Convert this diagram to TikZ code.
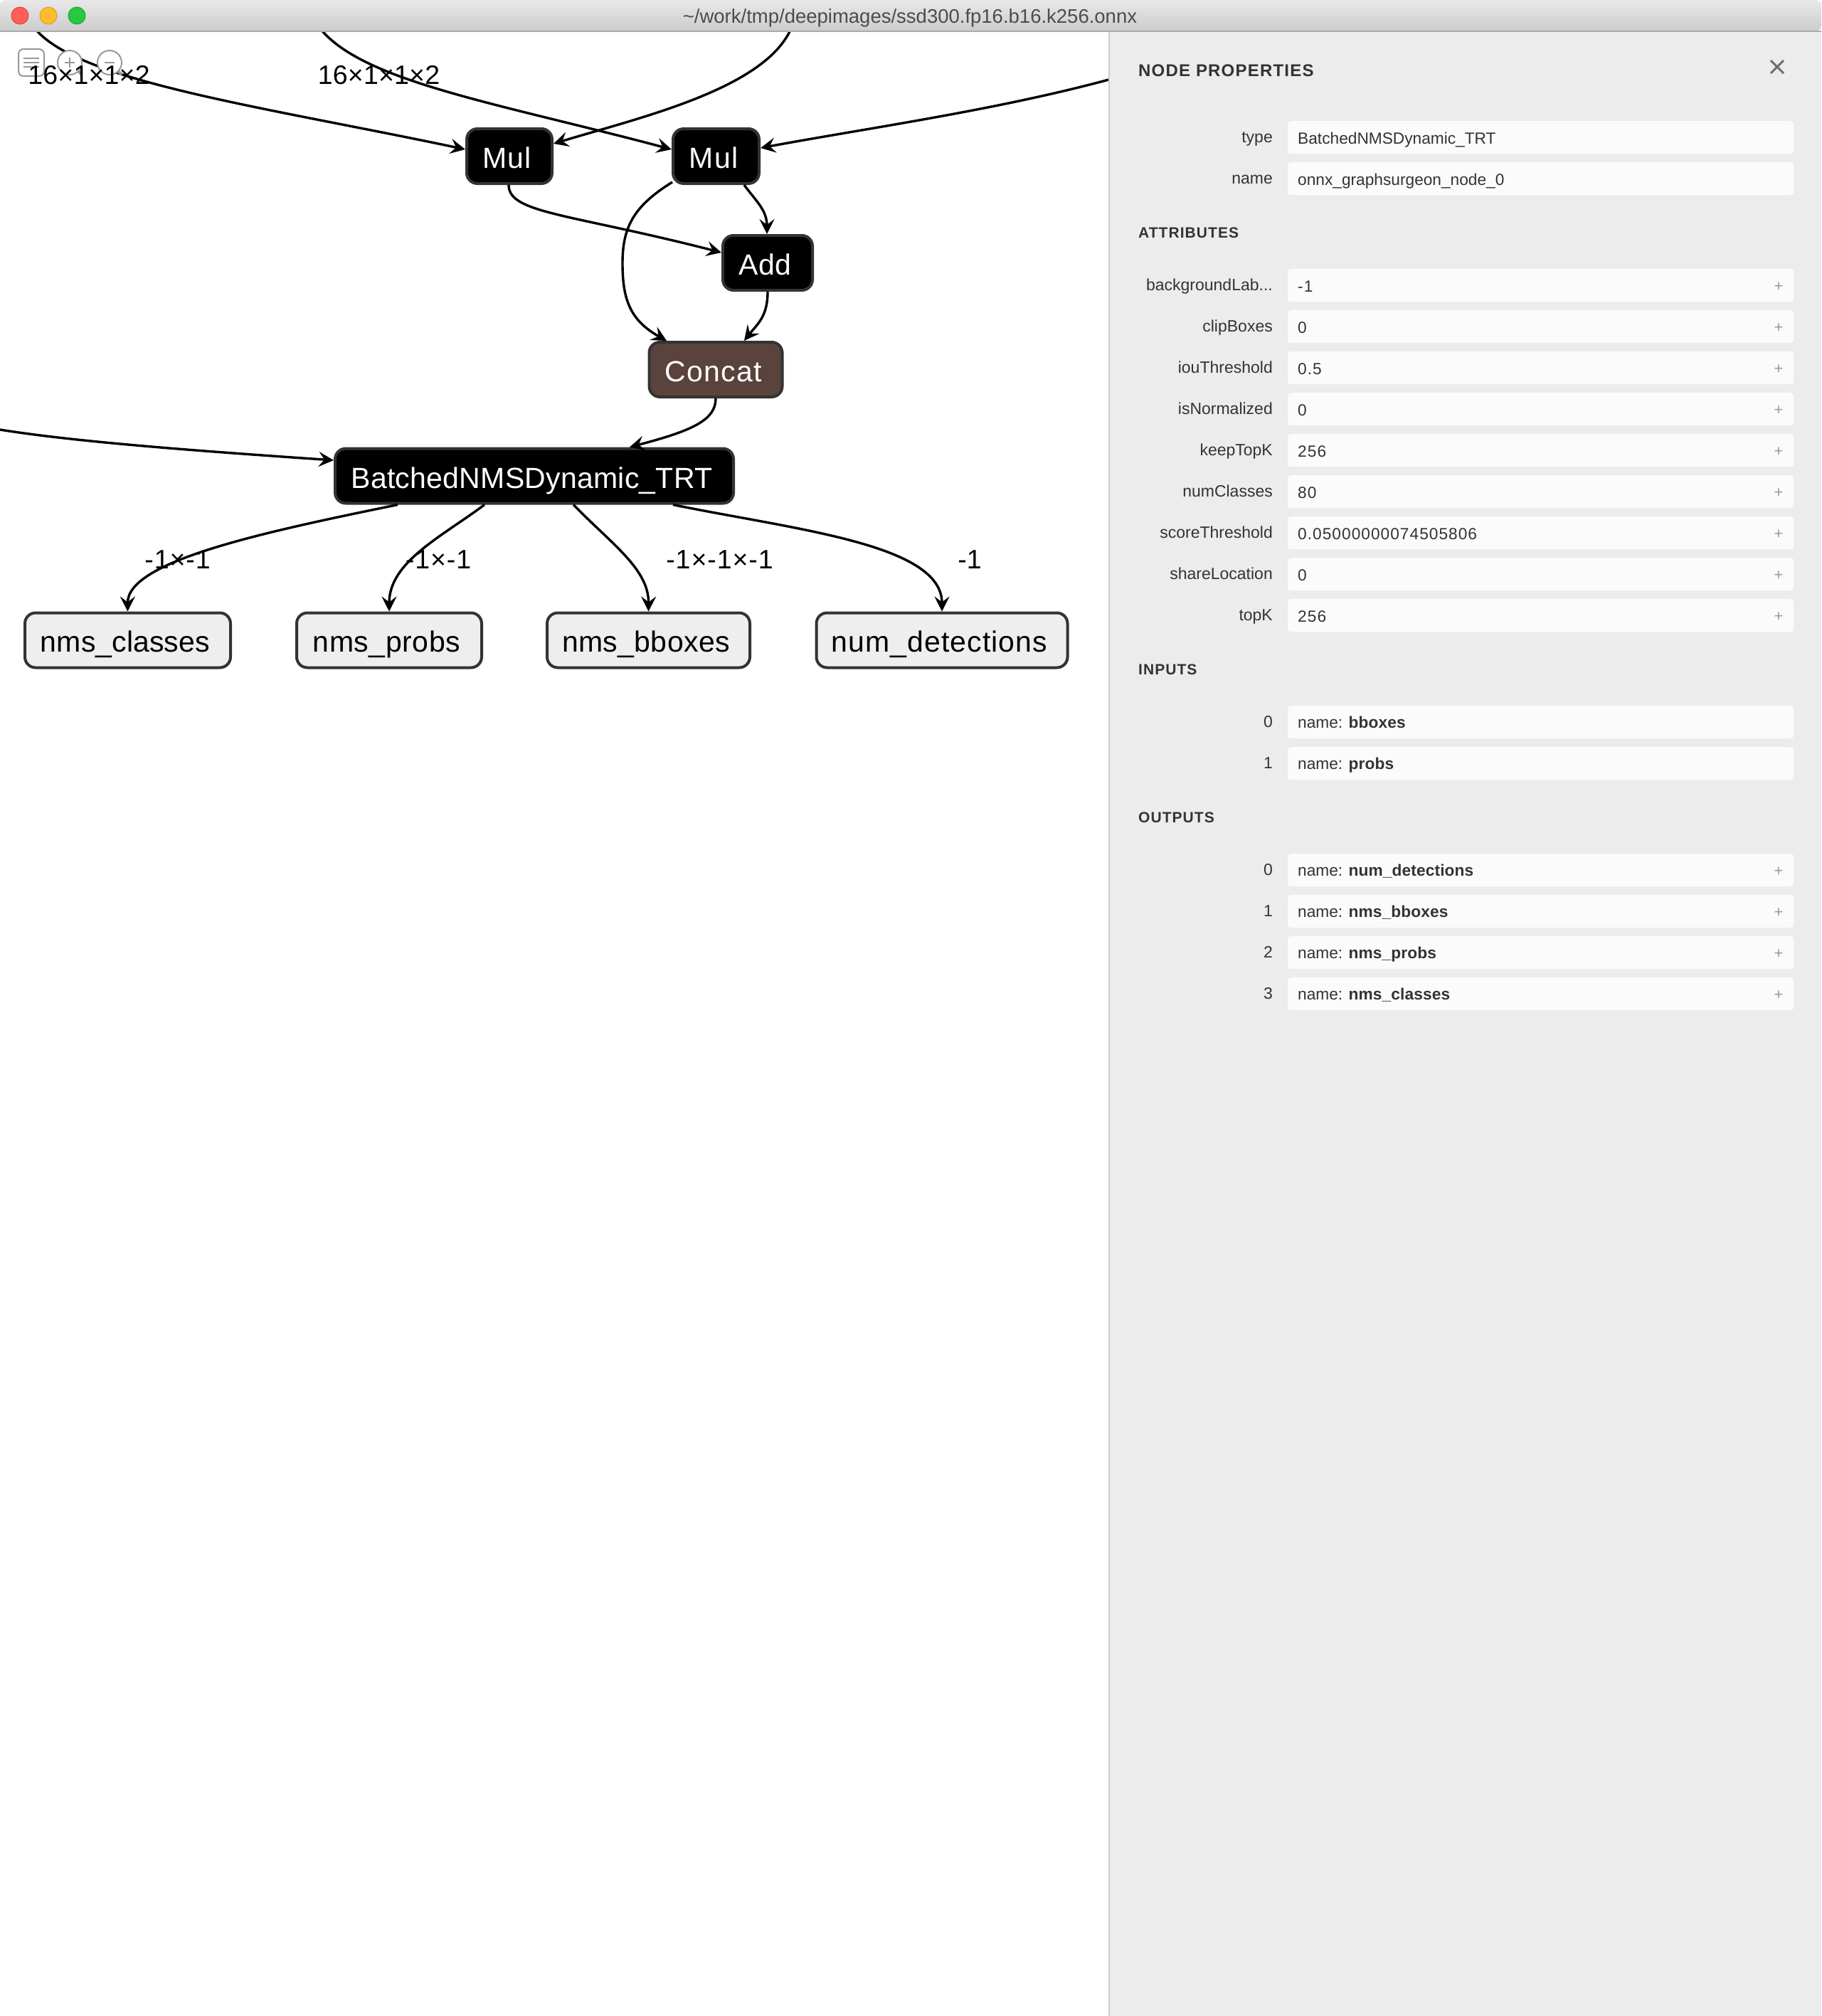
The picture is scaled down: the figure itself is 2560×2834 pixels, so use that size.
\documentclass[tikz,border=0pt]{standalone}
\usepackage{fontspec}
\setmainfont{Liberation Sans}
\usetikzlibrary{arrows.meta,calc}
\definecolor{nodeborder}{HTML}{333333}
\definecolor{concatfill}{HTML}{5A433D}
\definecolor{outfill}{HTML}{EEEEEE}
\definecolor{panelfill}{HTML}{ECECEC}
\definecolor{panelline}{HTML}{CCCCCC}
\definecolor{boxfill}{HTML}{FBFBFB}
\definecolor{paneltext}{HTML}{333333}
\definecolor{icongray}{HTML}{999999}
\definecolor{lightred}{HTML}{FF5F57}
\definecolor{lightredline}{HTML}{E0443E}
\definecolor{lightyel}{HTML}{FEBC2E}
\definecolor{lightyelline}{HTML}{DEA123}
\definecolor{lightgrn}{HTML}{28C840}
\definecolor{lightgrnline}{HTML}{1AAB29}
\newcommand{\nodefont}[1]{\fontsize{41}{48}\selectfont\addfontfeature{LetterSpace=#1}}
\newcommand{\shapefont}[1]{\fontsize{37.5}{44}\selectfont\addfontfeature{LetterSpace=#1}}
\newcommand{\panelfont}{\fontsize{22.7}{26}\selectfont}
\newcommand{\labelfont}{\fontsize{23}{26}\selectfont}
\newcommand{\bgname}{backgroundLab...}
\newcommand{\numval}[1]{{\addfontfeature{LetterSpace=4.5}#1}}
\newcommand{\boldval}[1]{{\bfseries\addfontfeature{LetterSpace=0.5}#1}}
\tikzset{
  x=1pt,y=-1pt,
  gnode/.style={draw=nodeborder,line width=4pt,rounded corners=15pt,minimum height=77pt,inner sep=0pt,
    text height=34pt,text depth=0pt,execute at end node=\kern7pt},
  opnode/.style={gnode,fill=black,text=white},
  catnode/.style={gnode,fill=concatfill,text=white},
  outnode/.style={gnode,fill=outfill,text=black,text height=32pt},
  ltr/.style={font=\nodefont{#1}},
  conn/.style={draw=black,line width=3.4pt,-{Stealth[length=21pt,width=21pt,inset=8pt]}},
  shapelabel/.style={text=black,inner sep=0pt,text height=26pt,text depth=0pt},
  slab/.style={font=\shapefont{#1}},
  vbox/.style={fill=boxfill,rounded corners=4pt,draw=none,inner sep=0pt,minimum width=711pt,minimum height=46pt,anchor=north west},
  proplabel/.style={font=\labelfont,text=paneltext,inner sep=0pt,anchor=base east},
  propvalue/.style={font=\panelfont,text=paneltext,inner sep=0pt,anchor=base west},
  prophead/.style={font=\fontsize{#1}{26}\selectfont\bfseries\addfontfeature{LetterSpace=5},text=paneltext,inner sep=0pt,anchor=base west},
  plusmark/.style={font=\fontsize{22}{24}\selectfont,text=icongray,inner sep=0pt},
  lightdot/.style={circle,minimum size=24pt,inner sep=0pt,line width=1pt},
  iconline/.style={draw=icongray,line width=2.4pt},
}
\begin{document}
\begin{tikzpicture}
\useasboundingbox (0,0) rectangle (2560,2834);
\fill[white] (0,0) rectangle (2560,2834);

% graph nodes
\node[opnode,ltr=3,minimum width=120pt] (mulA) at (716,219.5) {Mul};
\node[opnode,ltr=3,minimum width=121pt] (mulB) at (1006.5,219.5) {Mul};
\node[opnode,ltr=1.3,minimum width=126pt] (add) at (1079,369.5) {Add};
\node[catnode,ltr=3,minimum width=187pt] (concat) at (1006,519.5) {Concat};
\node[opnode,ltr=0.6,minimum width=560pt] (nms) at (751,669) {BatchedNMSDynamic\_TRT};
\node[outnode,ltr=0.3,minimum width=289pt] (classes) at (179.5,900) {nms\_classes};
\node[outnode,ltr=1.5,minimum width=260pt] (probs) at (547,900) {nms\_probs};
\node[outnode,ltr=0.8,minimum width=285pt] (bboxes) at (911.5,900) {nms\_bboxes};
\node[outnode,ltr=2.6,minimum width=353pt] (detections) at (1324,900) {num\_detections};

% free ends of the connectors
\coordinate (inA) at (49,40);
\coordinate (inB) at (450,40);
\coordinate (inC) at (1112,40);
\coordinate (inD) at (1562,111);
\coordinate (inE) at (0,604);

% connectors
\draw[conn] (inA) .. controls (110,115) and (370,150) .. ($(mulA.west)+(0,-9.5)$);
\draw[conn] (inB) .. controls (510,115) and (700,145) .. ($(mulB.west)+(0,-9.5)$);
\draw[conn] (inC) .. controls (1075,125) and (900,165) .. ($(mulA.east)+(0,-17.5)$);
\draw[conn] (inD) .. controls (1400,155) and (1220,180) .. ($(mulB.east)+(0,-11.5)$);
\draw[conn] ($(mulA.south)+(-1,0)$) .. controls (715,300) and (800,300) .. ($(add.west)+(0,-14.5)$);
\draw[conn] ($(mulB.south west)+(1,-4)$) .. controls (890,290) and (875,320) .. (875,370) .. controls (875,420) and (885,450) .. ($(concat.north)+(-69,0)$);
\draw[conn] ($(mulB.south)+(39.5,0)$) .. controls (1062,282) and (1078,295) .. ($(add.north)+(-1,0)$);
\draw[conn] (add.south) .. controls (1079,445) and (1065,455) .. ($(concat.north)+(40,0)$);
\draw[conn] (concat.south) .. controls (1006,590) and (975,605) .. ($(nms.north)+(134,0)$);
\draw[conn] (inE) .. controls (100,620) and (250,632) .. ($(nms.west)+(0,-22)$);
\draw[conn] ($(nms.south)+(-192,0)$) .. controls (360,750) and (179,790) .. (classes.north);
\draw[conn] ($(nms.south)+(-70,0)$) .. controls (620,755) and (547,790) .. (probs.north);
\draw[conn] ($(nms.south)+(55,0)$) .. controls (860,765) and (912,800) .. (bboxes.north);
\draw[conn] ($(nms.south)+(195,0)$) .. controls (1120,745) and (1324,765) .. (detections.north);

% graph toolbar
\draw[icongray,line width=2pt,rounded corners=7pt] (26,69) rectangle (62,107);
\draw[iconline] (33,82) -- (55,82);
\draw[iconline] (33,88) -- (55,88);
\draw[iconline] (33,94) -- (55,94);
\draw[icongray,line width=2pt,fill=white] (98,88) circle (17);
\draw[iconline] (91,88) -- (105,88);
\draw[iconline] (98,81) -- (98,95);
\draw[icongray,line width=4pt] (110,100) -- (115,105);
\draw[icongray,line width=2pt,fill=white] (154,88) circle (17);
\draw[iconline] (147,88) -- (161,88);
\draw[icongray,line width=4pt] (166,100) -- (171,105);

% shape labels
\node[shapelabel,slab=0.5] (lblA) at (125,105.5) {16×1×1×2};
\node[shapelabel,slab=0.5] (lblB) at (532.5,105.5) {16×1×1×2};
\node[shapelabel,slab=2.5] (lblC) at (249.5,786) {-1×-1};
\node[shapelabel,slab=2.5] (lblD) at (616,786) {-1×-1};
\node[shapelabel,slab=2.5] (lblE) at (1011.5,786) {-1×-1×-1};
\node[shapelabel,slab=0] (lblF) at (1363,786) {-1};

% properties panel
\fill[panelfill] (1558,44) rectangle (2560,2834);
\draw[panelline,line width=2pt] (1559,44) -- (1559,2834);
\draw[draw=nodeborder!70!white,line width=3pt] (2489,85) -- (2507,103);
\draw[draw=nodeborder!70!white,line width=3pt] (2507,85) -- (2489,103);

\node[prophead=24] (headProps) at (1600,108) {NODE PROPERTIES};
\node[prophead=21] (headAttrs) at (1600,334) {ATTRIBUTES};
\node[prophead=21] (headInputs) at (1600,948) {INPUTS};
\node[prophead=21] (headOutputs) at (1600,1156) {OUTPUTS};

\foreach \id/\lab/\val/\top in {
  type/type/BatchedNMSDynamic\_TRT/170,
  name/name/onnx\_graphsurgeon\_node\_0/228}{
  \node[vbox] (box\id) at (1810,\top) {};
  \node[proplabel] (lab\id) at (1789,\top+30) {\lab};
  \node[propvalue] (val\id) at (1824,\top+32) {\val};
}
\foreach \id/\lab/\val/\top in {
  bg/\bgname/-1/378,
  clip/clipBoxes/0/436,
  iou/iouThreshold/0.5/494,
  norm/isNormalized/0/552,
  keep/keepTopK/256/610,
  classes/numClasses/80/668,
  score/scoreThreshold/0.05000000074505806/726,
  share/shareLocation/0/784,
  topk/topK/256/842}{
  \node[vbox] (box\id) at (1810,\top) {};
  \node[proplabel] (lab\id) at (1789,\top+30) {\lab};
  \node[propvalue] (val\id) at (1824,\top+32) {\numval{\val}};
  \node[plusmark] (plus\id) at (2500,\top+25) {+};
}
\foreach \id/\lab/\val/\top in {
  inA/0/bboxes/992,
  inB/1/probs/1050}{
  \node[vbox] (box\id) at (1810,\top) {};
  \node[proplabel] (lab\id) at (1789,\top+30) {\lab};
  \node[propvalue] (val\id) at (1824,\top+31) {name: \boldval{\val}};
}
\foreach \id/\lab/\val/\top in {
  outA/0/num\_detections/1200,
  outB/1/nms\_bboxes/1258,
  outC/2/nms\_probs/1316,
  outD/3/nms\_classes/1374}{
  \node[vbox] (box\id) at (1810,\top) {};
  \node[proplabel] (lab\id) at (1789,\top+30) {\lab};
  \node[propvalue] (val\id) at (1824,\top+31) {name: \boldval{\val}};
  \node[plusmark] (plus\id) at (2500,\top+25) {+};
}

% title bar
\shade[top color=black!9,bottom color=black!20,rounded corners=8pt]
  (0,44) -- (0,0) -- (2560,0) -- (2560,44) [sharp corners] -- cycle;
\draw[black!33,line width=2pt] (0,44) -- (2560,44);
\node[lightdot,fill=lightred,draw=lightredline] (lightR) at (28,22) {};
\node[lightdot,fill=lightyel,draw=lightyelline] (lightY) at (68,22) {};
\node[lightdot,fill=lightgrn,draw=lightgrnline] (lightG) at (108,22) {};
\node[font=\fontsize{27.5}{30}\selectfont,text=black!70,inner sep=0pt] (title) at (1279,25) {\textasciitilde/work/tmp/deepimages/ssd300.fp16.b16.k256.onnx};
\end{tikzpicture}
\end{document}
